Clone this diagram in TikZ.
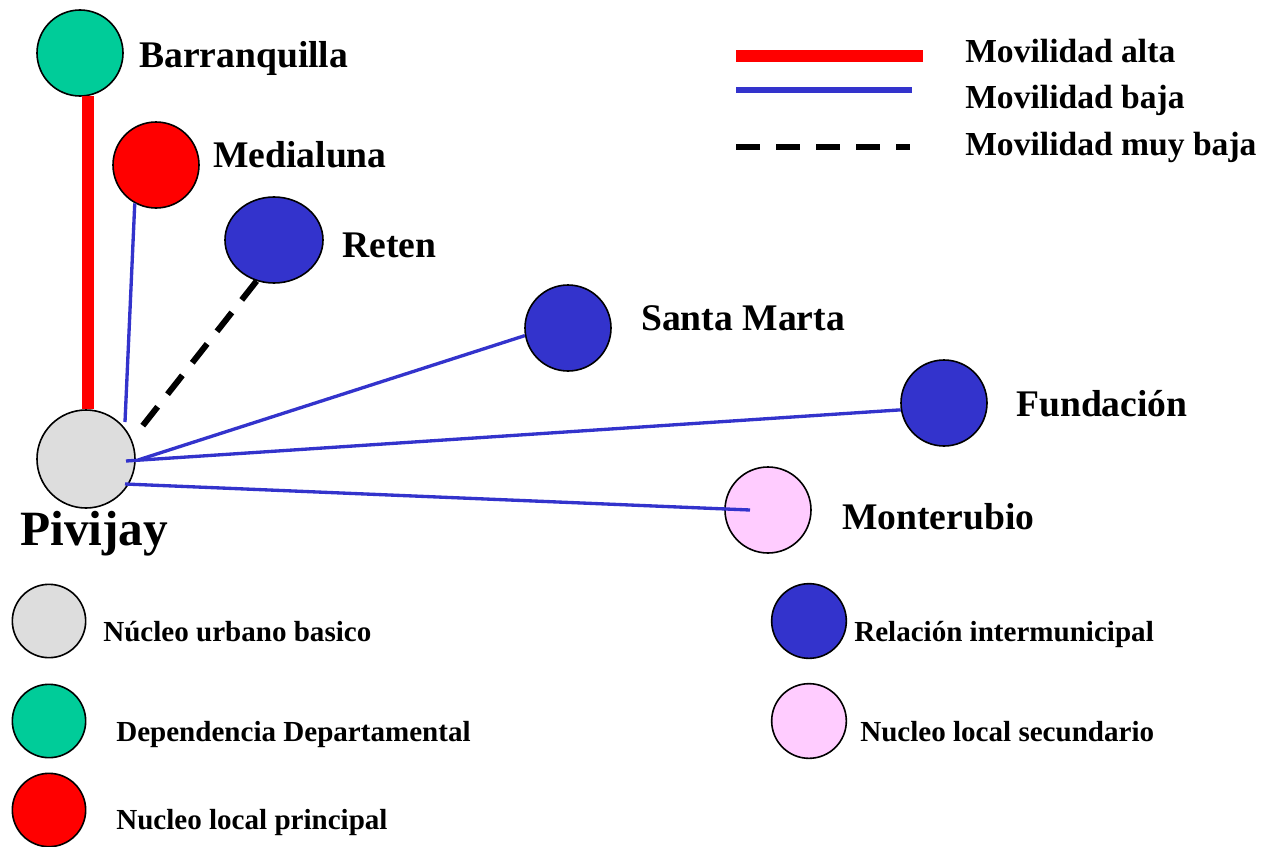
\documentclass[tikz,border=0pt]{standalone}
\usepackage{fontspec}
\setmainfont{Liberation Serif}
\usetikzlibrary{calc,shapes.geometric}
\definecolor{cgreen}{HTML}{00CC99}
\definecolor{cred}{HTML}{FF0000}
\definecolor{cblue}{HTML}{3333CC}
\definecolor{cgray}{HTML}{DDDDDD}
\definecolor{cpink}{HTML}{FFCCFF}
\tikzset{
  town/.style={circle,draw=black,line width=1.2pt,minimum size=#1,inner sep=0pt},
  lbl/.style={anchor=base west,inner sep=0pt,font=\fontsize{28.2}{30}\selectfont\bfseries},
  leglbl/.style={anchor=base west,inner sep=0pt,font=\fontsize{25.2}{27}\selectfont\bfseries},
  keylbl/.style={anchor=base west,inner sep=0pt,font=\fontsize{21.8}{23}\selectfont\bfseries},
  high/.style={draw=cred,line width=9pt},
  low/.style={draw=cblue,line width=2.5pt},
  verylow/.style={draw=black,line width=4.5pt,dash pattern=on 18pt off 12pt},
}
\begin{document}
\begin{tikzpicture}[x=0.75pt,y=-0.75pt]
\useasboundingbox (0,0) rectangle (1263,846);
% main nodes
\node[town=64.5pt,fill=cgreen] (barr) at (80,53) {};
\node[town=64.5pt,fill=cred] (med) at (156,165) {};
\node[ellipse,draw=black,line width=1.2pt,fill=cblue,minimum width=73.5pt,minimum height=64.5pt,inner sep=0pt] (ret) at (274,240) {};
\node[town=64.5pt,fill=cblue] (sm) at (568,328) {};
\node[town=64.5pt,fill=cblue] (fun) at (944,403) {};
\node[town=64.5pt,fill=cpink] (mon) at (768,510) {};
\node[town=73.5pt,fill=cgray] (piv) at (86,459) {};
% labels
\node[lbl] (lbarr) at (139,67) {Barranquilla};
\node[lbl] (lmed) at (213,167) {Medialuna};
\node[lbl] (lret) at (342,257) {Reten};
\node[lbl] (lsm) at (641,330) {Santa Marta};
\node[lbl] (lfun) at (1016,416) {Fundación};
\node[lbl] (lmon) at (842,529) {Monterubio};
\node[anchor=base west,inner sep=0pt,font=\fontsize{37}{39}\selectfont\bfseries] (lpiv) at (20,545) {Pivijay};
% connection points inside Pivijay
\coordinate (pmed) at ($(piv)+(39,-37)$);
\coordinate (pret) at ($(piv)+(51,-26)$);
\coordinate (psm) at ($(piv)+(52,1)$);
\coordinate (pfun) at ($(piv)+(40,2)$);
\coordinate (pmon) at ($(piv)+(39,25)$);
\coordinate (mone) at ($(mon)+(-18,0)$);
% connectors
\draw[high] (barr.-80) -- (barr.-80 |- piv.north);
\draw[low] (med.241) -- (pmed);
\draw[verylow] (ret.247) -- (pret);
\draw[low] (sm.190) -- (psm);
\draw[low] (fun.189) -- (pfun);
\draw[low] (mone) -- (pmon);
% legend of lines
\coordinate (la1) at (736,56);
\coordinate (la2) at (923,56);
\coordinate (lb1) at (736,90);
\coordinate (lb2) at (912,90);
\coordinate (lc1) at (736,147);
\coordinate (lc2) at (910,147);
\draw[line width=9.5pt,draw=cred] (la1) -- (la2);
\draw[line width=3.8pt,draw=cblue] (lb1) -- (lb2);
\draw[verylow] (lc1) -- (lc2);
\node[leglbl] (ta) at (965,62) {Movilidad alta};
\node[leglbl] (tb) at (965,108) {Movilidad baja};
\node[leglbl] (tc) at (965,155) {Movilidad muy baja};
% legend of nodes
\node[town=55pt,fill=cgray] (kgray) at (49,621) {};
\node[town=55pt,fill=cgreen] (kgreen) at (49,721) {};
\node[town=55pt,fill=cred] (kred) at (49,810) {};
\node[town=56pt,fill=cblue] (kblue) at (809,621) {};
\node[town=56pt,fill=cpink] (kpink) at (809,721) {};
\node[keylbl] (tgray) at (103,641) {Núcleo urbano basico};
\node[keylbl] (tgreen) at (116,741) {Dependencia Departamental};
\node[keylbl] (tred) at (116,829) {Nucleo local principal};
\node[keylbl] (tblue) at (854,641) {Relación intermunicipal};
\node[keylbl] (tpink) at (860,741) {Nucleo local secundario};
\end{tikzpicture}
\end{document}
